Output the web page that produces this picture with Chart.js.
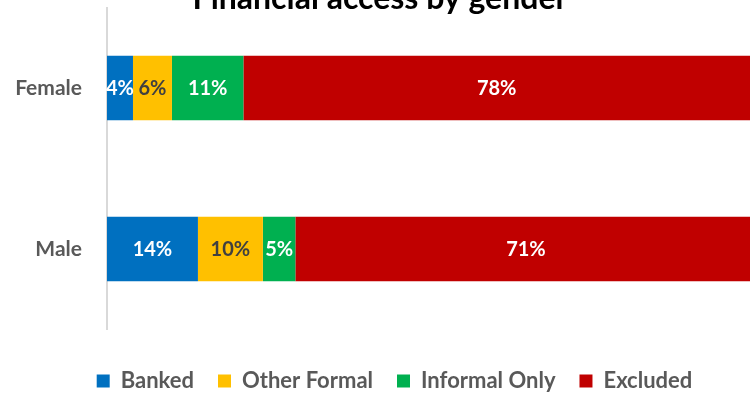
<!DOCTYPE html>
<html>
<head>
<meta charset="utf-8">
<script src="https://cdn.jsdelivr.net/npm/chart.js@4"></script>
<style>
  html, body { margin: 0; padding: 0; background: #fff; overflow: hidden; }
  #wrap { width: 750px; height: 394px; overflow: hidden; }
  canvas { display: block; }
</style>
</head>
<body>
<div id="wrap"><canvas id="c" width="789" height="402"></canvas></div>
<script>
// Share of adults by level of financial access, per gender (%)
const genders = ['Female', 'Male'];
const seriesNames = ['Banked', 'Other Formal', 'Informal Only', 'Excluded'];
const banked = [4, 14];
const otherFormal = [6, 10];
const informalOnly = [11, 5];
const excluded = [78, 71];
const chartTitle = 'Financial access by gender';

const seriesColors = ['#0070C0', '#FFC000', '#00B050', '#C00000'];
const labelColors = ['#ffffff', '#404040', '#ffffff', '#ffffff'];
const FONT = 'Lato, "Open Sans", sans-serif';

const seriesValues = [banked, otherFormal, informalOnly, excluded];

// Value labels in the middle of each bar segment
const segmentLabels = {
  id: 'segmentLabels',
  afterDatasetsDraw(chart) {
    const ctx = chart.ctx;
    ctx.save();
    ctx.font = 'bold 20px ' + FONT;
    ctx.textAlign = 'center';
    ctx.textBaseline = 'middle';
    chart.data.datasets.forEach((ds, di) => {
      const meta = chart.getDatasetMeta(di);
      meta.data.forEach((bar, i) => {
        ctx.fillStyle = labelColors[di];
        ctx.fillText(ds.data[i] + '%', (bar.base + bar.x) / 2, bar.y + 1);
      });
    });
    ctx.restore();
  }
};

// Chart heading, partly above the top edge of the frame
const headingPlugin = {
  id: 'heading',
  afterDraw(chart) {
    const ctx = chart.ctx;
    ctx.save();
    ctx.font = 'bold 32px ' + FONT;
    ctx.fillStyle = '#000000';
    ctx.textAlign = 'center';
    ctx.textBaseline = 'alphabetic';
    ctx.fillText(chartTitle, 380, 9);
    ctx.restore();
  }
};

new Chart(document.getElementById('c'), {
  type: 'bar',
  data: {
    labels: genders,
    datasets: seriesNames.map((name, i) => ({
      label: name,
      data: seriesValues[i],
      backgroundColor: seriesColors[i],
      borderWidth: 0,
      barPercentage: 0.4,
      categoryPercentage: 1.0
    }))
  },
  options: {
    indexAxis: 'y',
    responsive: false,
    devicePixelRatio: 1,
    animation: false,
    layout: { padding: { top: 7.5, left: 0, right: 0, bottom: 0 } },
    scales: {
      x: {
        stacked: true,
        min: 0,
        max: 105,
        grid: { display: false },
        border: { display: false },
        ticks: { display: false },
        afterFit(scale) { scale.height = 16.5; }
      },
      y: {
        stacked: true,
        grid: { display: false, drawTicks: false },
        border: { display: true, color: '#d9d9d9', width: 2 },
        ticks: {
          color: '#595959',
          padding: 25,
          font: { family: FONT, size: 21, weight: 'bold' }
        },
        afterFit(scale) {
          scale.width = 107;
          scale.paddingTop = 0;
          scale.paddingBottom = 0;
        }
      }
    },
    plugins: {
      title: { display: false },
      tooltip: { enabled: false },
      legend: {
        position: 'bottom',
        labels: {
          color: '#595959',
          boxWidth: 13,
          boxHeight: 13,
          padding: 24,
          font: { family: FONT, size: 22, weight: 'bold' }
        }
      }
    }
  },
  plugins: [segmentLabels, headingPlugin]
});
</script>
</body>
</html>
